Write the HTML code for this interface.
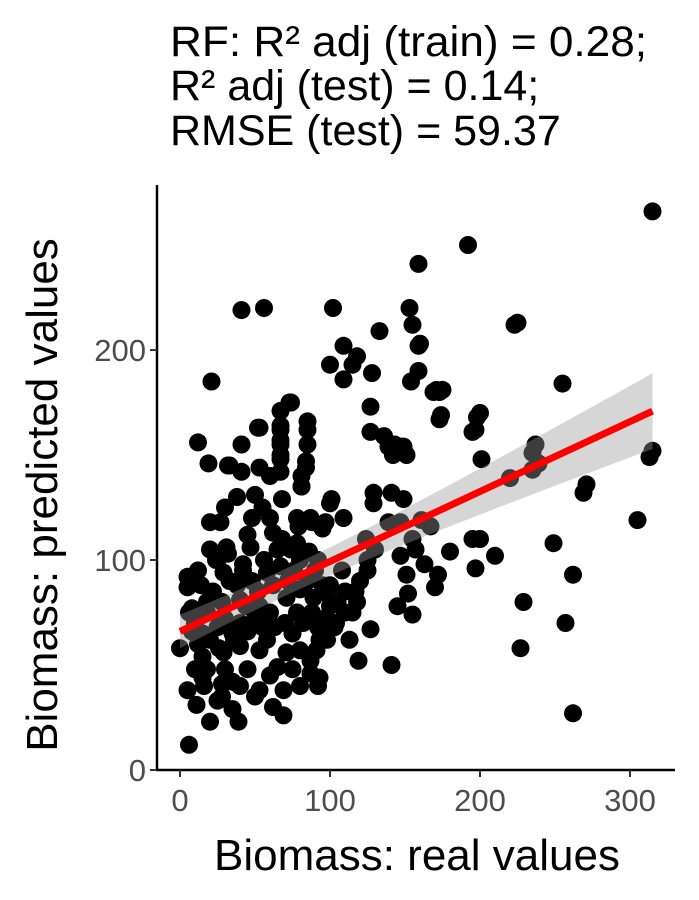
<!DOCTYPE html>
<html><head><meta charset="utf-8"><style>
html,body{margin:0;padding:0;background:#fff;}
svg{display:block;font-family:"Liberation Sans",sans-serif;}
</style></head><body>
<svg id="chart" width="699" height="900" viewBox="0 0 699 900">
<g font-size="43" fill="#000">
<text x="170" y="56" textLength="477" lengthAdjust="spacingAndGlyphs">RF: R² adj (train) = 0.28;</text>
<text x="170" y="100">R² adj (test) = 0.14;</text>
<text x="170" y="145">RMSE (test) = 59.37</text>
</g>
<g id="points"></g>
<g id="band"></g>
<g id="fit"></g>
<line x1="157" y1="185" x2="157" y2="771" stroke="#000" stroke-width="2.5"/>
<line x1="156" y1="770" x2="675" y2="770" stroke="#000" stroke-width="2.5"/>
<g id="xticks"></g>
<g id="yticks"></g>
<text x="417" y="870" font-size="44" text-anchor="middle">Biomass: real values</text>
<text transform="translate(57,495) rotate(-90)" font-size="44" text-anchor="middle">Biomass: predicted values</text>
</svg>
<script>
const xs = [315,192,159,41,56,102,133,223,21,255,109,115,100,109,153,155,159,154,159,169,173,173,198,195,127,136,143,147,151,73,12,19,41,33,67,67,67,67,53,85,85,313,235,235,269,305,262,257,262,227,229,249,210,197,195,200,180,271,315,225,237,239,220,201,197,200,174,171,175,160,118,128,127,139,149,142,85,84,81,81,101,129,129,141,149,139,147,161,167,155,157,147,163,172,151,170,152,145,155,127,113,119,141,87,93,109,97,78,87,124,117,103,93,110,120,125,105,115,125,130,100,108,118,74,32,41,53,60,52,67,67,67,67,84,81,50,68,100,27,45,62,79,88,95,20,31,47,65,78,5,5,29,42,58,67,8,18,40,53,71,80,89,98,0,15,29,40,53,71,80,91,65,87,92,5,15,28,40,53,69,11,25,35,20,39,69,6,10,15,20,25,30,35,40,45,50,55,22,28,33,38,48,52,60,63,12,18,26,36,44,58,8,14,24,32,42,56,62,70,75,78,82,88,92,96,72,76,85,90,95,100,98,104,110,80,86,92,74,68,60,55,48,38,30,20,25,12,6,10,18,30,45,60,75,80,28,50,62,16,35];
const ys = [266,250,241,219,220,220,209,212,185,184,202,193,193,186,220,212,202,185,190,180,180,167,168,161,173,159,155,154,150,175,156,146,155,145,171,164,157,150,163,162,155,149,151,143,132,119,93,70,27,58,80,108,102,96,110,110,104,136,152,213,155,146,139,148,162,170,169,181,181,203,197,189,161,154,154,150,166,147,140,135,129,132,127,132,129,118,118,119,116,110,105,102,98,93,93,87,84,78,74,67,62,52,50,52,44,120,118,120,120,110,85,68,62,85,90,95,80,75,100,105,88,95,80,175,145,142,144,140,163,162,155,148,142,144,135,131,129,127,118,112,113,116,118,115,105,106,106,105,108,92,87,94,95,94,97,77,80,81,78,82,86,82,84,58,54,56,59,57,56,57,57,49,46,40,38,44,41,40,38,38,31,33,29,23,23,26,12,70,65,62,68,72,65,70,66,72,68,85,80,90,88,90,85,75,68,60,75,58,62,78,62,66,88,100,103,98,100,88,70,65,75,70,75,68,72,90,95,90,95,88,78,62,70,75,100,104,100,105,110,120,125,120,130,125,118,100,95,75,48,48,48,48,45,48,40,35,35,30,40,42];
const fitIntercept = [66];
const fitSlope = [0.333];
const fitRange = [0, 315];
const xTickVals = [0,100,200,300];
const yTickVals = [0,100,200];

const X = v => 180 + v*1.5;
const Y = v => 770 - v*2.1;
const NS = 'http://www.w3.org/2000/svg';
function mk(tag, attrs, parent){const e=document.createElementNS(NS,tag);for(const k in attrs)e.setAttribute(k,attrs[k]);parent.appendChild(e);return e;}

const pg = document.getElementById('points');
for (let i=0;i<xs.length;i++){
  const c = mk('circle',{cx:X(xs[i]),cy:Y(ys[i]),r:9,fill:'#000'},pg);
  
  
}
const xm = 70;
const hw = x => Math.sqrt(41 + 0.00472*(x-xm)*(x-xm));
const f = x => fitIntercept[0] + fitSlope[0]*x;
let up=[], lo=[];
for (let k=0;k<=40;k++){const x=fitRange[0]+(fitRange[1]-fitRange[0])*k/40;up.push(X(x)+','+Y(f(x)+hw(x)));lo.unshift(X(x)+','+Y(f(x)-hw(x)));}
const band = mk('polygon',{points:up.concat(lo).join(' '),fill:'#999','fill-opacity':0.4},document.getElementById('band'));


const ln = mk('line',{x1:X(fitRange[0]),y1:Y(f(fitRange[0])),x2:X(fitRange[1]),y2:Y(f(fitRange[1])),stroke:'#ff0000','stroke-width':7},document.getElementById('fit'));



const xt = document.getElementById('xticks');
xTickVals.forEach(v=>{
  const t = mk('line',{x1:X(v),x2:X(v),y1:770,y2:777,stroke:'#333','stroke-width':2},xt);
  
  
  const l = mk('text',{x:X(v),y:811,'font-size':31,fill:'#4d4d4d','text-anchor':'middle'},xt);
  l.textContent = v;
  
  
});
const yt = document.getElementById('yticks');
yTickVals.forEach(v=>{
  const t = mk('line',{x1:150,x2:157,y1:Y(v),y2:Y(v),stroke:'#333','stroke-width':2},yt);
  
  
  const l = mk('text',{x:146,y:Y(v)+11,'font-size':31,fill:'#4d4d4d','text-anchor':'end'},yt);
  l.textContent = v;
  
  
});
</script>
</body></html>
